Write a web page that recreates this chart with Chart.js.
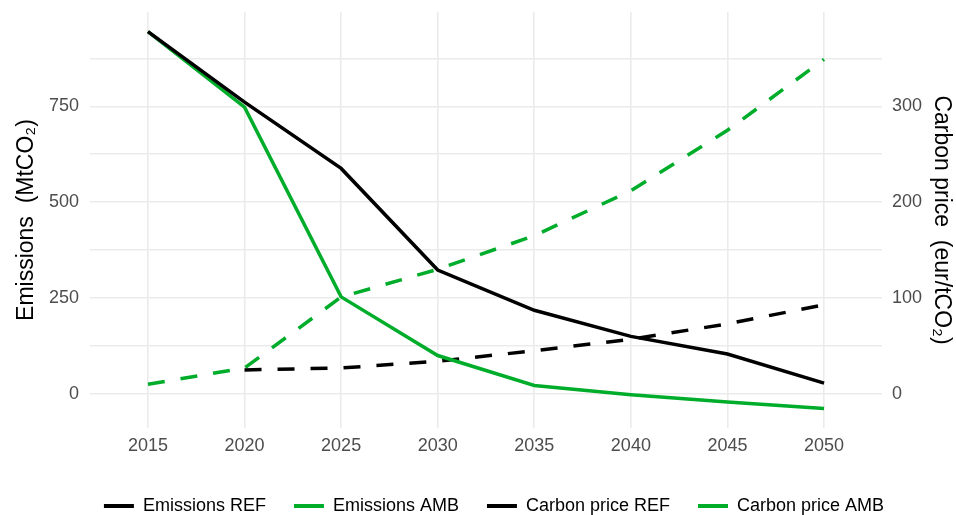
<!DOCTYPE html>
<html>
<head>
<meta charset="utf-8">
<script src="https://cdn.jsdelivr.net/npm/chart.js@4"></script>
<style>
  html, body { margin: 0; padding: 0; background: #fff; overflow: hidden; }
</style>
</head>
<body>
<canvas id="myChart" width="956" height="525"></canvas>
<script>
// chart data
const years = [2015, 2020, 2025, 2030, 2035, 2040, 2045, 2050];
const emissionsRef = [945, 761, 588, 323, 218, 150, 104, 28];
const emissionsAmb = [945, 748, 253, 100, 22, -2, -21, -38];
const priceRef = [null, 25, 27, 34, 45, 57, 73, 93];
const priceAmb = [10, 27, 101, 130, 165, 212, 275, 349];

const xTicks = [2015, 2020, 2025, 2030, 2035, 2040, 2045, 2050];
const leftTicks = [0, 125, 250, 375, 500, 625, 750, 875];
const rightTicks = [0, 100, 200, 300];

const green = '#00ad2b';
const black = '#000000';
const grey = '#4d4d4d';
const gridCol = '#ebebeb';

// left axis min/max, right axis is left / 2.5
const leftMin = -89;
const leftMax = 996;
const ratio = 2.5;

const pts = (arr) => years.map((y, i) => ({ x: y, y: arr[i] }));

const data = {
  datasets: [
    { label: 'Emissions REF', data: pts(emissionsRef), borderColor: black, yAxisID: 'y' },
    { label: 'Emissions AMB', data: pts(emissionsAmb), borderColor: green, yAxisID: 'y' },
    { label: 'Carbon price REF', data: pts(priceRef), borderColor: black, borderDash: [17, 16], yAxisID: 'y2' },
    { label: 'Carbon price AMB', data: pts(priceAmb), borderColor: green, borderDash: [17, 16], yAxisID: 'y2' }
  ]
};

const tickFont = { family: 'Liberation Sans, Arial, sans-serif', size: 18 };
const titleFont = { family: 'Liberation Sans, Arial, sans-serif', size: 23 };

// no extra room for end labels on the y axes
const noPad = (s) => { s.paddingTop = 0; s.paddingBottom = 0; };

const config = {
  type: 'line',
  data: data,
  options: {
    responsive: false,
    animation: false,
    devicePixelRatio: 1,
    layout: { padding: { left: 32, top: 12, right: 0, bottom: 0 } },
    elements: {
      line: { borderWidth: 3.5, tension: 0, fill: false },
      point: { radius: 0 }
    },
    plugins: {
      tooltip: { enabled: false },
      legend: {
        position: 'bottom',
        labels: {
          color: black,
          font: tickFont,
          usePointStyle: true,
          pointStyle: 'line',
          pointStyleWidth: 30,
          padding: 28,
          generateLabels: (chart) => {
            return chart.data.datasets.map((ds, i) => ({
              text: ds.label,
              strokeStyle: ds.borderColor,
              fillStyle: ds.borderColor,
              lineWidth: 4,
              lineDash: [],
              pointStyle: 'line',
              datasetIndex: i,
              hidden: false
            }));
          }
        }
      }
    },
    scales: {
      x: {
        type: 'linear',
        min: 2012,
        max: 2053,
        afterBuildTicks: (s) => { s.ticks = xTicks.map(v => ({ value: v })); },
        afterFit: (s) => { s.height = 41; },
        border: { display: false },
        grid: { color: gridCol, lineWidth: 1.6, drawTicks: false },
        ticks: { color: grey, font: tickFont, padding: 7, callback: (v) => String(v) }
      },
      y: {
        position: 'left',
        min: leftMin,
        max: leftMax,
        afterBuildTicks: (s) => { s.ticks = leftTicks.map(v => ({ value: v })); },
        afterFit: (s) => { s.width = 58; noPad(s); },
        border: { display: false },
        grid: { color: gridCol, lineWidth: 1.6, drawTicks: false },
        ticks: {
          color: grey, font: tickFont, padding: 11,
          callback: (v) => (v % 250 === 0 ? String(v) : '')
        },
        title: {
          display: true,
          text: 'Emissions  (MtCO₂)',
          color: black,
          font: titleFont,
          padding: { top: -19, bottom: 0 }
        }
      },
      y2: {
        position: 'right',
        min: leftMin / ratio,
        max: leftMax / ratio,
        afterBuildTicks: (s) => { s.ticks = rightTicks.map(v => ({ value: v })); },
        afterFit: (s) => { s.width = 74; noPad(s); },
        border: { display: false },
        grid: { display: false, drawTicks: false },
        ticks: { color: grey, font: tickFont, padding: 10 },
        title: {
          display: true,
          text: 'Carbon price  (eur/tCO₂)',
          color: black,
          font: titleFont,
          padding: { top: 1, bottom: 0 }
        }
      }
    }
  }
};

document.addEventListener('DOMContentLoaded', () => {
  const ctx = document.getElementById('myChart').getContext('2d');
  new Chart(ctx, config);
});
</script>
</body>
</html>
